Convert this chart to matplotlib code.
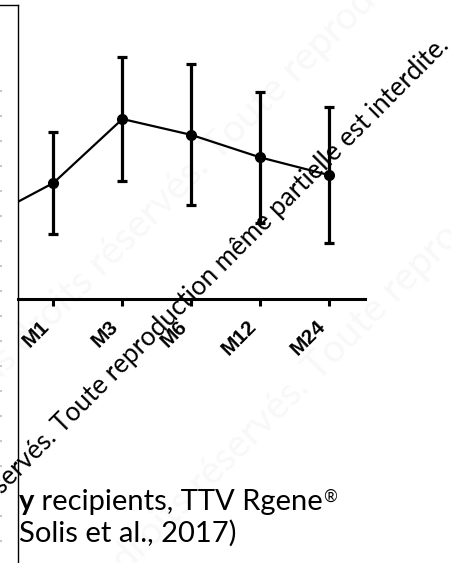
import matplotlib
matplotlib.use("Agg")
import matplotlib.pyplot as plt
from matplotlib.lines import Line2D

W, H = 452, 563

# TTV load over follow-up (arbitrary units)
timepoints = ["M0", "M1", "M3", "M6", "M12", "M24"]
ttv_mean = [2.65, 3.87, 6.00, 5.47, 4.72, 4.13]
ttv_sd = [1.70, 1.70, 2.08, 2.35, 2.18, 2.27]

caption_bold = "y"
caption_line1 = " recipients, TTV Rgene"
caption_mark = "®"
caption_line2 = "Solis et al., 2017)"
watermark = "Tous droits réservés. Toute reproduction même partielle est interdite."


def fx(px):
    return px / W


def fy(py):
    return 1 - py / H


fig = plt.figure(figsize=(W / 100, H / 100), dpi=100)
fig.patch.set_facecolor("white")

# faint background watermark
fig.text(fx(-40), fy(420), watermark, rotation=45, rotation_mode="anchor",
         ha="left", va="baseline", fontsize=28, family="Lato",
         color="#f8f8f8", zorder=-5)
fig.text(fx(60), fy(640), watermark, rotation=45, rotation_mode="anchor",
         ha="left", va="baseline", fontsize=28, family="Lato",
         color="#f8f8f8", zorder=-5)

ax = fig.add_axes([fx(18), fy(299), fx(365) - fx(18), (299 - 5) / H])
ax.patch.set_alpha(0)

x = list(range(len(timepoints)))
ax.errorbar(x, ttv_mean, yerr=ttv_sd, color="black", lw=1.6,
            elinewidth=2.3, capsize=3.6, capthick=2.3,
            marker="o", ms=7)

ax.set_yticks([])
ax.set_xticks(x)
ax.set_xticklabels(timepoints, rotation=45, ha="right",
                   fontweight="bold", family="Liberation Sans")
ax.set_xlim(0.485, 5.52)
ax.set_ylim(0, 9.8)
ax.tick_params(axis="x", width=2.2, length=5, pad=8, labelsize=15)
for side in ["top", "right", "left"]:
    ax.spines[side].set_visible(False)
ax.spines["bottom"].set_linewidth(2.2)

# frame of the cropped figure box
fig.add_artist(Line2D([fx(18), fx(18)], [fy(5), 0], color="black", lw=1.0,
                      transform=fig.transFigure))
fig.add_artist(Line2D([0, fx(18)], [fy(5), fy(5)], color="black", lw=1.0,
                      transform=fig.transFigure))
fig.add_artist(Line2D([fx(1.5), fx(1.5)], [fy(90), 0], color="#c8c8c8",
                      lw=1.5, linestyle=(0, (1, 11)),
                      transform=fig.transFigure))

# black watermark line
fig.text(fx(450), fy(47), watermark, rotation=45, rotation_mode="anchor",
         ha="right", va="baseline", fontsize=18.6, family="Lato",
         color="black")

# caption
cap_size = 21
t1 = fig.text(fx(19), fy(510), caption_bold, fontsize=cap_size, family="Lato",
              fontweight="bold", va="baseline")
t2 = ax.annotate(caption_line1, xy=(1, 0), xycoords=t1, va="bottom",
                 fontsize=cap_size, family="Lato", annotation_clip=False)
ax.annotate(caption_mark, xy=(1, 1), xycoords=t2, va="top", ha="left",
            fontsize=12, family="Lato", annotation_clip=False)
fig.text(fx(19), fy(542), caption_line2, fontsize=cap_size, family="Lato",
         va="baseline")

fig.savefig("out.png", dpi=100)
